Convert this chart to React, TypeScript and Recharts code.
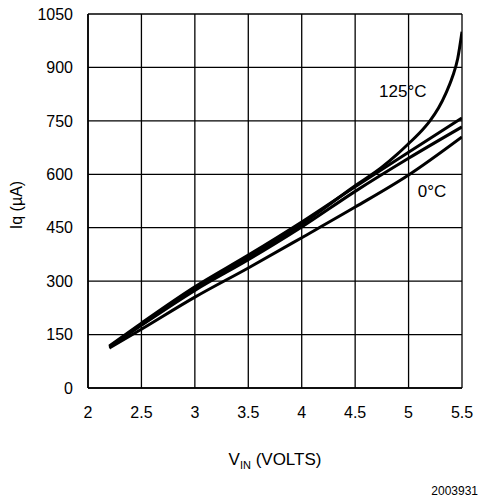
import React from "react";
import {
  CartesianGrid,
  Line,
  LineChart,
  ReferenceDot,
  XAxis,
  YAxis,
} from "recharts";

// Iq vs VIN (uA)
const vinTicks = [2, 2.5, 3, 3.5, 4, 4.5, 5, 5.5];
const iqTicks = [0, 150, 300, 450, 600, 750, 900, 1050];

const curveUpper = [
  { v: 2.2, iq: 118 },
  { v: 2.5, iq: 182 },
  { v: 3, iq: 284 },
  { v: 3.5, iq: 373 },
  { v: 4, iq: 466 },
  { v: 4.5, iq: 565 },
  { v: 5, iq: 662 },
  { v: 5.5, iq: 758 },
];

const curveMiddle = [
  { v: 2.2, iq: 115 },
  { v: 2.5, iq: 176 },
  { v: 3, iq: 274 },
  { v: 3.5, iq: 360 },
  { v: 4, iq: 452 },
  { v: 4.5, iq: 552 },
  { v: 5, iq: 645 },
  { v: 5.5, iq: 733 },
];

const curve0C = [
  { v: 2.2, iq: 112 },
  { v: 2.5, iq: 165 },
  { v: 3, iq: 255 },
  { v: 3.5, iq: 337 },
  { v: 4, iq: 422 },
  { v: 4.5, iq: 508 },
  { v: 5, iq: 598 },
  { v: 5.5, iq: 705 },
];

const curve125C = [
  { v: 2.2, iq: 116 },
  { v: 2.5, iq: 178 },
  { v: 3, iq: 278 },
  { v: 3.5, iq: 366 },
  { v: 4, iq: 460 },
  { v: 4.5, iq: 568 },
  { v: 4.75, iq: 620 },
  { v: 4.9, iq: 658 },
  { v: 5, iq: 686 },
  { v: 5.1, iq: 715 },
  { v: 5.2, iq: 750 },
  { v: 5.28, iq: 786 },
  { v: 5.35, iq: 828 },
  { v: 5.41, iq: 873 },
  { v: 5.46, iq: 925 },
  { v: 5.5, iq: 1000 },
];

const FONT = "'Liberation Sans', Arial, sans-serif";

export default function App() {
  const tickStyle = { fontSize: 16, fill: "#000", fontFamily: FONT };

  return (
    <div style={{ width: 479, height: 503, background: "#fff", position: "relative" }}>
      <style>{"body{margin:0}"}</style>
      <LineChart
        width={479}
        height={503}
        margin={{ top: 14, right: 17, bottom: 85, left: 0 }}
      >
        <CartesianGrid stroke="#000" strokeWidth={1.3} />
        <XAxis
          dataKey="v"
          type="number"
          domain={[2, 5.5]}
          ticks={vinTicks}
          height={30}
          tickSize={0}
          tickMargin={19}
          tick={tickStyle}
          axisLine={{ stroke: "#000", strokeWidth: 1.6 }}
          tickLine={false}
          allowDataOverflow
          label={{
            content: () => (
              <text x={275} y={465} textAnchor="middle" fontSize={17} fontFamily={FONT} fill="#000">
                V<tspan fontSize={11} dy={4}>IN</tspan>
                <tspan dy={-4}> (VOLTS)</tspan>
              </text>
            ),
          }}
        />
        <YAxis
          dataKey="iq"
          type="number"
          domain={[0, 1050]}
          ticks={iqTicks}
          width={88}
          tickSize={0}
          tickMargin={15}
          tick={tickStyle}
          axisLine={{ stroke: "#000", strokeWidth: 1.6 }}
          tickLine={false}
          allowDataOverflow
          label={{
            content: () => (
              <text
                x={16}
                y={205}
                transform="rotate(-90, 16, 205)"
                textAnchor="middle"
                dominantBaseline="central"
                fontSize={16}
                fontFamily={FONT}
                fill="#000"
              >
                Iq (µA)
              </text>
            ),
          }}
        />
        <Line data={curve0C} dataKey="iq" type="monotone" stroke="#000" strokeWidth={3} dot={false} isAnimationActive={false} />
        <Line data={curveMiddle} dataKey="iq" type="monotone" stroke="#000" strokeWidth={3} dot={false} isAnimationActive={false} />
        <Line data={curveUpper} dataKey="iq" type="monotone" stroke="#000" strokeWidth={3} dot={false} isAnimationActive={false} />
        <Line data={curve125C} dataKey="iq" type="monotone" stroke="#000" strokeWidth={3} dot={false} isAnimationActive={false} />
        <ReferenceDot
          x={4.946}
          y={834}
          r={0}
          fill="none"
          stroke="none"
          label={{ value: "125°C", position: "center", fontSize: 17, fill: "#000", fontFamily: FONT }}
        />
        <ReferenceDot
          x={5.22}
          y={553}
          r={0}
          fill="none"
          stroke="none"
          label={{ value: "0°C", position: "center", fontSize: 17, fill: "#000", fontFamily: FONT }}
        />
      </LineChart>
      <div
        style={{
          position: "absolute",
          right: 1,
          top: 484,
          fontSize: 12,
          fontFamily: FONT,
          color: "#000",
          lineHeight: "14px",
        }}
      >
        2003931
      </div>
    </div>
  );
}
